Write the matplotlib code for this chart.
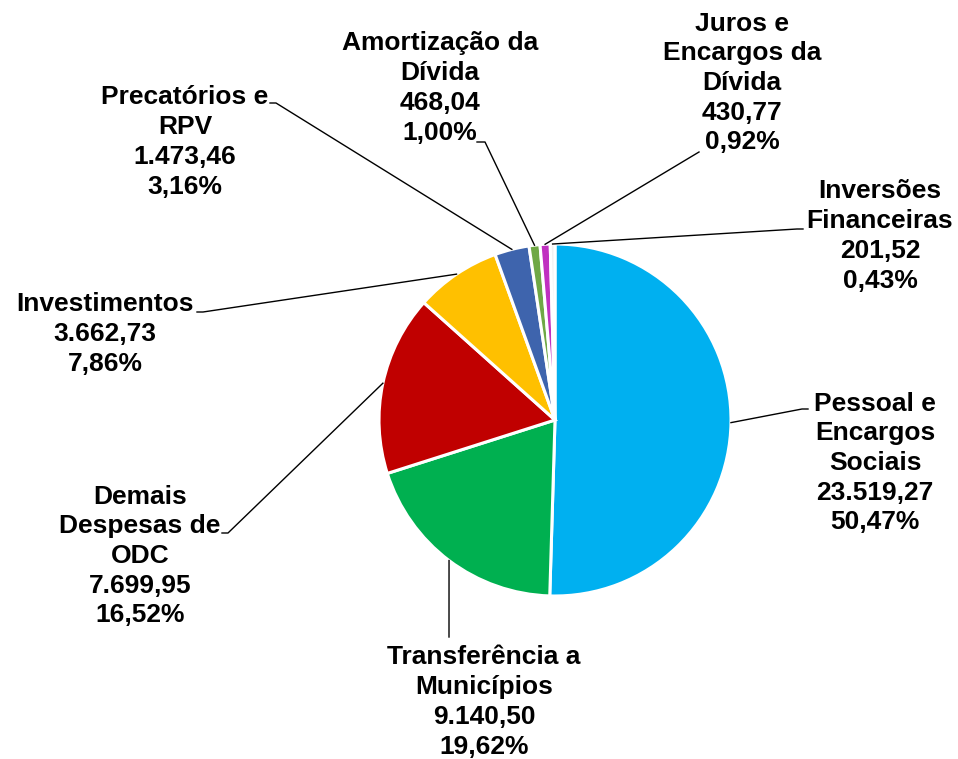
import matplotlib
matplotlib.use("Agg")
import matplotlib.pyplot as plt
import numpy as np

categories = ["Pessoal e\nEncargos\nSociais", "Transferência a\nMunicípios", "Demais\nDespesas de\nODC",
              "Investimentos", "Precatórios e\nRPV", "Amortização da\nDívida",
              "Juros e\nEncargos da\nDívida", "Inversões\nFinanceiras"]
values = [23519.27, 9140.50, 7699.95, 3662.73, 1473.46, 468.04, 430.77, 201.52]
percents = [50.47, 19.62, 16.52, 7.86, 3.16, 1.00, 0.92, 0.43]
colors = ["#00B0F0", "#00B050", "#C00000", "#FFC000", "#3E64AD", "#6FA845", "#C030C0", "#F2F2F2"]

W, H = 958, 759
fig = plt.figure(figsize=(W / 100, H / 100), dpi=100)
ax = fig.add_axes([0, 0, 1, 1])
ax.set_xlim(0, W)
ax.set_ylim(H, 0)
ax.set_aspect("equal")
ax.axis("off")

cx, cy, R = 555, 420, 176
# pie in a y-inverted axes: counterclock=True visually becomes clockwise
wedges, _ = ax.pie(values, colors=colors, startangle=-90, counterclock=True,
                   center=(cx, cy), radius=R, frame=True,
                   wedgeprops=dict(edgecolor="white", linewidth=2.2))
ax.set_xlim(0, W)
ax.set_ylim(H, 0)
ax.axis("off")


def fmt_num(v):
    s = f"{v:,.2f}"
    return s.replace(",", "X").replace(".", ",").replace("X", ".")


# label layout: (text center x, text center y, line end x, line end y, elbow offset toward pie)
layout = [
    (875, 463, 808, 409, -6),
    (484, 702, 449, 637, 0),
    (140, 556, 222, 533, 6),
    (105, 334, 197, 312, 6),
    (185, 142, 270, 103, 6),
    (440, 88, 477, 142, 8),
    (742, 83, 699, 152, 0),
    (880, 236, 803, 229, -6),
]

for w, cat, v, p, (tx, ty, lx, ly, el) in zip(wedges, categories, values, percents, layout):
    ang = np.deg2rad((w.theta1 + w.theta2) / 2)
    px = cx + R * np.cos(ang)
    py = cy + R * np.sin(ang)
    label = f"{cat}\n{fmt_num(v)}\n" + f"{p:.2f}".replace(".", ",") + "%"
    ax.text(tx, ty, label, ha="center", va="center", fontsize=19, fontweight="bold",
            family=["Liberation Sans", "DejaVu Sans"], linespacing=1.30, color="black")
    if el != 0:
        xs = [px, lx + el, lx]
        ys = [py, ly, ly]
    else:
        xs = [px, lx]
        ys = [py, ly]
    ax.plot(xs, ys, color="black", linewidth=1.0)

fig.savefig("out.png", dpi=100, facecolor="white")
